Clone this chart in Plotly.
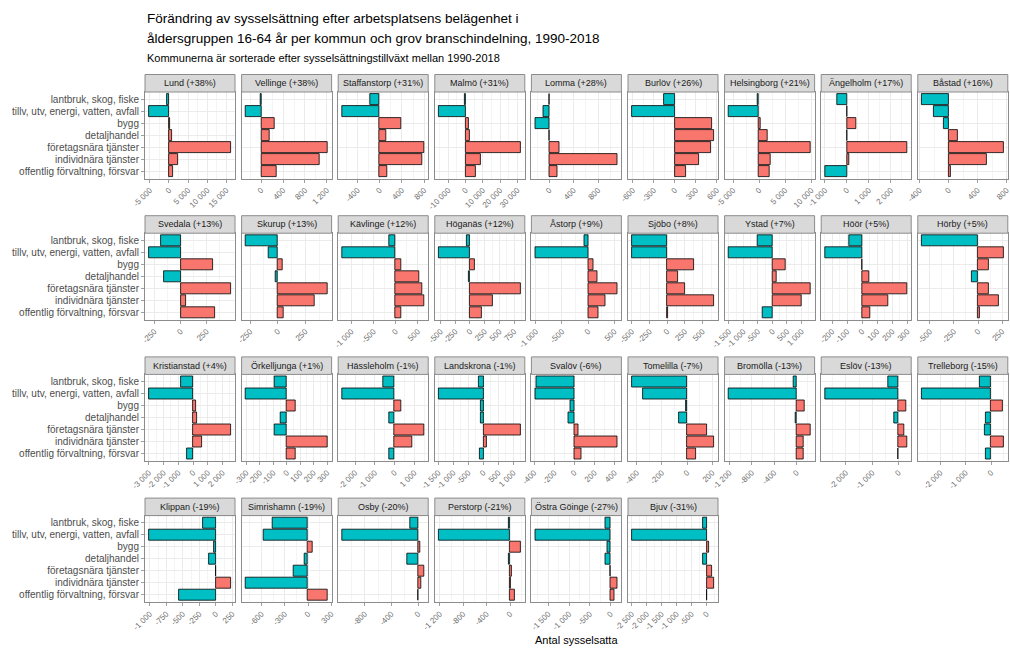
import plotly.graph_objects as go

# kommuner, sorterade efter tillvaxt
kommuner = ["Lund", "Vellinge", "Staffanstorp", "Malmö", "Lomma", "Burlöv", "Helsingborg", "Ängelholm", "Båstad",
            "Svedala", "Skurup", "Kävlinge", "Höganäs", "Åstorp", "Sjöbo", "Ystad", "Höör", "Hörby",
            "Kristianstad", "Örkelljunga", "Hässleholm", "Landskrona", "Svalöv", "Tomelilla", "Bromölla", "Eslöv", "Trelleborg",
            "Klippan", "Simrishamn", "Osby", "Perstorp", "Östra Göinge", "Bjuv"]
tillvaxt = ["+38%", "+38%", "+31%", "+31%", "+28%", "+26%", "+21%", "+17%", "+16%",
            "+13%", "+13%", "+12%", "+12%", "+9%", "+8%", "+7%", "+5%", "+5%",
            "+4%", "+1%", "-1%", "-1%", "-6%", "-7%", "-13%", "-13%", "-15%",
            "-19%", "-19%", "-20%", "-21%", "-27%", "-31%"]

branscher = ["lantbruk, skog, fiske", "tillv, utv, energi, vatten, avfall", "bygg", "detaljhandel",
             "företagsnära tjänster", "individnära tjänster", "offentlig förvaltning, försvar"]

lantbruk = [-600, -15, -170, -200, -6, -162, -380, -462, -368,
            -189, -290, -136, -57, -64, -495, -494, -88, -583,
            -818, -90, -559, -144, -380, -437, -60, -385, -447,
            -202, -452, -111, -29, -129, -134]
tillv = [-5200, -283, -673, -15400, -94, -610, -5830, -10, -207,
         -301, -82, -1205, -528, -1006, -490, -1506, -245, 267,
         -2977, -305, -2644, -1478, -387, -347, -1212, -2780, -2724,
         -1010, -574, -1139, -1215, -1806, -2490]
bygg = [250, 246, 394, 1730, -228, 529, 380, 431, -64,
        314, 43, 129, 74, 109, 377, 448, 2, 111,
        205, 68, 339, -78, -37, -8, 137, 295, 461,
        -25, 57, 30, 183, -81, 67]
detaljhandel = [700, 154, 121, 2500, 8, 557, 1600, 8, 129,
                -157, -21, 530, -28, 179, 156, 126, 45, -69,
                250, -48, -288, -89, -63, -67, -12, -154, -211,
                -101, -43, -162, -17, -129, -112]
foretag = [16200, 1212, 800, 31900, 172, 519, 9860, 2738, 759,
           483, 451, 599, 863, 558, 255, 1310, 299, 111,
           2568, -90, 1492, 1244, 43, 160, 251, 192, -250,
           3, -183, 91, 34, -16, 190]
individ = [2450, 1070, 770, 8850, 1117, 338, 2110, 108, 524,
           51, 335, 644, 380, 327, 660, 1012, 171, 215,
           591, 303, 915, 111, 427, 213, 125, 321, 500,
           227, -805, 40, 17, 161, 246]
offentlig = [1000, 280, 133, 6150, 139, 162, 1980, -985, 28,
             330, 49, 129, 199, 199, 5, -322, 56, 17,
             -432, 68, -254, -133, 70, 69, 125, -30, -211,
             -561, 252, 8, 74, 97, 20]

# x-axelns brytpunkter per kommun
brytpunkter = [[-5000, 0, 5000, 10000, 15000], [0, 400, 800, 1200], [-400, 0, 400, 800],
               [-10000, 0, 10000, 20000, 30000], [0, 400, 800], [-600, -300, 0, 300, 600],
               [-5000, 0, 5000, 10000], [-1000, 0, 1000, 2000], [-400, 0, 400, 800],
               [-250, 0, 250], [-250, 0, 250], [-1000, -500, 0, 500],
               [-500, -250, 0, 250, 500, 750], [-1000, -500, 0, 500], [-500, -250, 0, 250, 500],
               [-1500, -1000, -500, 0, 500, 1000], [-200, -100, 0, 100, 200, 300], [-500, -250, 0, 250],
               [-3000, -2000, -1000, 0, 1000, 2000], [-300, -200, -100, 0, 100, 200, 300],
               [-2000, -1000, 0, 1000], [-1500, -1000, -500, 0, 500, 1000], [-400, -200, 0, 200, 400],
               [-400, -200, 0, 200], [-1200, -800, -400, 0], [-2000, -1000, 0], [-2000, -1000, 0],
               [-1000, -750, -500, -250, 0, 250], [-600, -300, 0, 300], [-800, -400, 0],
               [-1200, -800, -400, 0], [-1500, -1000, -500, 0], [-2500, -2000, -1500, -1000, -500, 0]]

W, H = 1010, 648
FONT = "Liberation Sans, Arial, sans-serif"
NEG, POS = "#00BFC4", "#F8766D"


def px(x):
    return x / W


def py(y):
    return 1 - y / H


def fmt(v):
    s = "{:,}".format(abs(v)).replace(",", " ")
    return ("-" if v < 0 else "") + s


fig = go.Figure()
shapes = []
annotations = []

for i, kommun in enumerate(kommuner):
    r, c = i // 9, i % 9
    k = i + 1
    vals = [lantbruk[i], tillv[i], bygg[i], detaljhandel[i], foretag[i], individ[i], offentlig[i]]

    x0 = 145 + c * 96.6
    x1 = x0 + 90
    strip_top = 74.5 + r * 141.2
    strip_bot = strip_top + 17.5
    panel_bot = strip_top + 104

    lo = min(min(vals), 0)
    hi = max(max(vals), 0)
    span = hi - lo
    rng = [lo - 0.05 * span, hi + 0.05 * span]

    ticks = brytpunkter[i]
    step = ticks[1] - ticks[0]
    minor = [t + step / 2 for t in [ticks[0] - step] + ticks]
    minor = [m for m in minor if rng[0] <= m <= rng[1]]

    fig.add_trace(go.Bar(
        x=vals, y=branscher, orientation="h", width=0.9,
        marker=dict(color=[NEG if v < 0 else POS for v in vals],
                    line=dict(color="black", width=0.8)),
        xaxis="x" if k == 1 else f"x{k}", yaxis="y" if k == 1 else f"y{k}",
        showlegend=False, hoverinfo="x+y"))

    xa = dict(domain=[px(x0), px(x1)], anchor="y" if k == 1 else f"y{k}", range=rng,
              automargin=False, ticklabeloverflow="allow",
              tickmode="array", tickvals=ticks, ticktext=[fmt(t) for t in ticks],
              tickangle=-45, tickfont=dict(size=8, color="#6e6e6e", family=FONT),
              ticks="outside", ticklen=3, tickcolor="#a0a0a0",
              showgrid=True, gridcolor="#ebebeb", gridwidth=1, zeroline=False,
              showline=True, mirror=True, linecolor="#8c8c8c", linewidth=1,
              minor=dict(tickvals=minor, showgrid=True, gridcolor="#f4f4f4", gridwidth=0.6, ticks=""),
              fixedrange=True)
    ya = dict(domain=[py(panel_bot), py(strip_bot)], anchor="x" if k == 1 else f"x{k}",
              automargin=False,
              type="category", categoryorder="array", categoryarray=branscher,
              range=[len(branscher) - 0.4, -0.6],
              showticklabels=(c == 0), tickfont=dict(size=10, color="#4d4d4d", family=FONT),
              ticks="outside" if c == 0 else "", ticklen=3, tickcolor="#a0a0a0",
              showgrid=True, gridcolor="#ebebeb", gridwidth=1, zeroline=False,
              showline=True, mirror=True, linecolor="#8c8c8c", linewidth=1, fixedrange=True)
    fig.update_layout({("xaxis" if k == 1 else f"xaxis{k}"): xa,
                       ("yaxis" if k == 1 else f"yaxis{k}"): ya})

    shapes.append(dict(type="rect", xref="paper", yref="paper",
                       x0=px(x0), x1=px(x1), y0=py(strip_bot), y1=py(strip_top),
                       fillcolor="#d9d9d9", line=dict(color="#8c8c8c", width=1)))
    annotations.append(dict(text=f"{kommun} ({tillvaxt[i]})", xref="paper", yref="paper",
                            x=px((x0 + x1) / 2), y=py((strip_top + strip_bot) / 2),
                            xanchor="center", yanchor="middle", showarrow=False,
                            font=dict(size=9, color="#1a1a1a", family=FONT)))

annotations += [
    dict(text="Förändring av sysselsättning efter arbetsplatsens belägenhet i", xref="paper", yref="paper",
         x=px(145), y=py(18), xanchor="left", yanchor="middle", showarrow=False,
         font=dict(size=13.5, color="#000000", family=FONT)),
    dict(text="åldersgruppen 16-64 år per kommun och grov branschindelning, 1990-2018", xref="paper", yref="paper",
         x=px(145), y=py(38.5), xanchor="left", yanchor="middle", showarrow=False,
         font=dict(size=13.5, color="#000000", family=FONT)),
    dict(text="Kommunerna är sorterade efter sysselsättningstillväxt mellan 1990-2018", xref="paper", yref="paper",
         x=px(145), y=py(57.5), xanchor="left", yanchor="middle", showarrow=False,
         font=dict(size=11, color="#000000", family=FONT)),
    dict(text="Antal sysselsatta", xref="paper", yref="paper",
         x=px(576), y=py(640), xanchor="center", yanchor="middle", showarrow=False,
         font=dict(size=11, color="#000000", family=FONT)),
]

fig.update_layout(width=W, height=H, margin=dict(l=0, r=0, t=0, b=0),
                  paper_bgcolor="white", plot_bgcolor="white",
                  font=dict(family=FONT), shapes=shapes, annotations=annotations,
                  bargap=0)

# sidans standardmarginal bort, sa att figuren fyller fonstret
fig.write_html("out.html", config={"displayModeBar": False},
               post_script="document.body.style.margin = '0px';")
